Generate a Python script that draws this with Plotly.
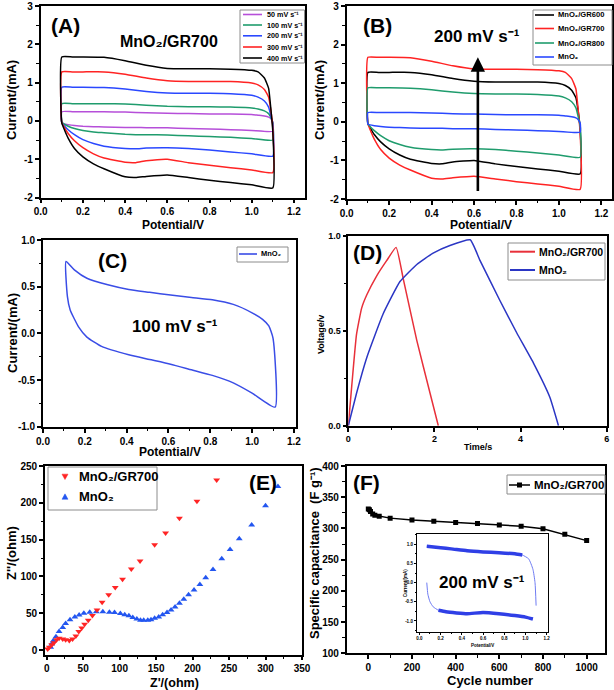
import plotly.graph_objects as go

W, H = 614, 690
FONT = "Liberation Sans"

# ---------------- data ----------------
# Panel A / B : CV curves (potential grid shared by all loops)
CV_V_UP = [0.10, 0.15, 0.20, 0.30, 0.40, 0.50, 0.60, 0.70, 0.80, 0.90, 1.00, 1.03, 1.06, 1.08, 1.09, 1.10]
CV_V_LOW = [1.10, 1.00, 0.90, 0.80, 0.70, 0.60, 0.50, 0.45, 0.40, 0.30, 0.25, 0.20, 0.16, 0.13, 0.11, 0.10]

I400_UP = [1.67, 1.67, 1.67, 1.66, 1.57, 1.45, 1.37, 1.36, 1.36, 1.35, 1.32, 1.28, 1.12, 0.85, 0.35, -0.30]
I400_LOW = [-1.75, -1.67, -1.61, -1.55, -1.48, -1.41, -1.45, -1.48, -1.46, -1.25, -1.12, -0.94, -0.72, -0.45, -0.20, -0.05]
I300_UP = [1.28, 1.28, 1.28, 1.28, 1.22, 1.12, 1.05, 1.03, 1.03, 1.03, 0.99, 0.94, 0.82, 0.62, 0.30, -0.20]
I300_LOW = [-1.35, -1.28, -1.22, -1.16, -1.09, -1.00, -1.04, -1.09, -1.08, -0.97, -0.86, -0.70, -0.52, -0.33, -0.15, -0.05]
I200_UP = [0.88, 0.88, 0.88, 0.87, 0.83, 0.77, 0.73, 0.72, 0.72, 0.71, 0.67, 0.62, 0.52, 0.36, 0.15, -0.10]
I200_LOW = [-0.92, -0.86, -0.81, -0.76, -0.72, -0.70, -0.71, -0.73, -0.72, -0.66, -0.59, -0.49, -0.36, -0.23, -0.12, -0.05]
I100_UP = [0.45, 0.45, 0.45, 0.45, 0.44, 0.41, 0.38, 0.37, 0.37, 0.36, 0.34, 0.31, 0.26, 0.19, 0.10, -0.05]
I100_LOW = [-0.50, -0.46, -0.43, -0.41, -0.39, -0.37, -0.36, -0.36, -0.35, -0.31, -0.29, -0.25, -0.20, -0.14, -0.08, -0.03]
I50_UP = [0.24, 0.24, 0.24, 0.24, 0.23, 0.21, 0.20, 0.19, 0.18, 0.18, 0.17, 0.15, 0.13, 0.10, 0.06, -0.03]
I50_LOW = [-0.27, -0.25, -0.23, -0.21, -0.20, -0.18, -0.18, -0.17, -0.17, -0.16, -0.15, -0.14, -0.12, -0.10, -0.08, -0.06]

A_NAMES = ["50 mV s⁻¹", "100 mV s⁻¹", "200 mV s⁻¹", "300 mV s⁻¹", "400 mV s⁻¹"]
B_NAMES = ["MnO₂/GR600", "MnO₂/GR700", "MnO₂/GR800", "MnO₂"]

# Panel C : MnO2 CV at 100 mV/s
C_V_UP = [0.11, 0.15, 0.21, 0.31, 0.41, 0.51, 0.61, 0.71, 0.81, 0.91, 1.00, 1.05, 1.08, 1.10, 1.11]
C_I_UP = [0.77, 0.68, 0.59, 0.52, 0.47, 0.44, 0.41, 0.385, 0.36, 0.31, 0.22, 0.15, 0.08, -0.05, -0.79]
C_V_LOW = [1.11, 1.00, 0.91, 0.81, 0.71, 0.61, 0.51, 0.41, 0.28, 0.21, 0.17, 0.13, 0.117, 0.11]
C_I_LOW = [-0.79, -0.64, -0.53, -0.45, -0.39, -0.33, -0.28, -0.23, -0.14, -0.04, 0.07, 0.25, 0.39, 0.77]

# Panel D : charge / discharge
D_GR_T = [0, 0.08, 0.19, 0.31, 0.43, 0.66, 0.89, 1.11, 1.28, 1.59, 1.90, 2.09]
D_GR_V = [0, 0.21, 0.48, 0.62, 0.69, 0.79, 0.87, 0.94, 0.77, 0.45, 0.17, 0.0]
D_MN_T = [0, 0.19, 0.43, 0.81, 1.20, 1.59, 1.97, 2.36, 2.83, 3.06, 3.52, 3.91, 4.30, 4.68, 4.88]
D_MN_V = [0, 0.17, 0.36, 0.59, 0.76, 0.85, 0.91, 0.95, 0.98, 0.87, 0.66, 0.49, 0.33, 0.15, 0.0]

# Panel E : Nyquist
E_GR_RE = [1.4, 3.6, 7, 10, 13.6, 17, 22, 26, 31, 35.5, 40, 44, 48, 52, 57, 62.7, 69, 76, 85, 94,
           104, 116, 128, 148, 163, 182, 206, 233]
E_GR_IM = [1.4, 3.6, 7, 10, 14, 16, 15, 14, 13, 15, 19, 25, 30, 35, 40.5, 47, 54.5, 65, 75, 85,
           96, 110, 121, 143, 159, 179, 202, 231]
E_MN_RE = [5.5, 6.8, 9, 12.7, 17, 22, 26, 32, 38.6, 44.5, 51, 59, 68, 77, 86, 93, 101, 107, 112.7, 118,
           123.6, 128.6, 133, 138.6, 143, 148, 153.6, 159, 165, 170.5, 176, 182, 188, 194.5, 202, 210,
           218, 228, 240, 251.4, 264, 281, 300, 317]
E_MN_IM = [3.6, 8, 12.6, 18, 25, 30.6, 36, 41, 45, 47.7, 50, 51.4, 51.8, 51.8, 51.4, 51, 49.5, 48, 46.4, 44,
           42, 40.5, 40.5, 40.5, 41, 43, 45, 48, 51, 54.5, 58.5, 63.5, 69, 75, 81.5, 89,
           98, 109.5, 124, 136.5, 151, 170, 196, 222]

# Panel F : cycling
F_CYCLE = [0, 5, 10, 20, 30, 50, 100, 200, 300, 400, 500, 600, 700, 800, 900, 1000]
F_CAP = [331, 330, 327, 323, 321, 319.5, 316.5, 313.5, 311.5, 309.5, 308, 305.5, 303.5, 299.5, 290.5, 280.5]

# Inset of F : CV at 200 mV/s
IN_V_UP = [0.07, 0.20, 0.30, 0.45, 0.60, 0.75, 0.90, 0.97, 1.03, 1.07, 1.09, 1.10]
IN_I_UP = [0.95, 0.91, 0.88, 0.83, 0.80, 0.78, 0.75, 0.72, 0.62, 0.35, 0.0, -0.60]
IN_V_LOW = [0.07, 0.08, 0.10, 0.13, 0.18, 0.25, 0.35, 0.45, 0.60, 0.75, 0.90, 1.00, 1.07]
IN_I_LOW = [0.0, -0.30, -0.50, -0.63, -0.72, -0.76, -0.79, -0.81, -0.78, -0.81, -0.86, -0.90, -0.95]

# ---------------- helpers ----------------
def px(x):
    return x / W

def py(y):
    return 1 - y / H

def xdom(a, b):
    return [a / W, b / W]

def ydom(top, bottom):
    return [1 - bottom / H, 1 - top / H]

def axis(dom, rng, vals, fmt, minor, anchor, size=10, lw=1.6, tl=4, tw=1.5, mtl=2.5):
    return dict(domain=dom, range=rng, anchor=anchor, automargin=False, tickmode="array", tickvals=vals,
                ticktext=[fmt.format(v) for v in vals], ticks="outside", ticklen=tl,
                tickwidth=tw, tickcolor="black", showline=True, linecolor="black",
                linewidth=lw, mirror=True, showgrid=False, zeroline=False, fixedrange=True,
                tickfont=dict(family=FONT, size=size, color="black", weight="bold"),
                minor=dict(tickmode="linear", tick0=0, dtick=minor, ticks="outside",
                           ticklen=mtl, tickwidth=max(tw - 0.3, 0.5), tickcolor="black",
                           showgrid=False))

def loop(up_v, lo_v, up_i, lo_i):
    return up_v + lo_v + [up_v[0]], up_i + lo_i + [up_i[0]]

fig = go.Figure()

# ---------------- Panel A ----------------
A_COLORS = ["#b64fd9", "#1f9c6d", "#2a48ff", "#ff2323", "#000000"]
A_SETS = [(I50_UP, I50_LOW), (I100_UP, I100_LOW), (I200_UP, I200_LOW),
          (I300_UP, I300_LOW), (I400_UP, I400_LOW)]
for name, col, (u, l) in zip(A_NAMES, A_COLORS, A_SETS):
    xv, yv = loop(CV_V_UP, CV_V_LOW, u, l)
    fig.add_trace(go.Scatter(x=xv, y=yv, mode="lines", name=name, showlegend=False,
                             line=dict(color=col, width=1.5, shape="spline", smoothing=0.4),
                             xaxis="x", yaxis="y"))

# ---------------- Panel B ----------------
B_COLORS = ["#000000", "#ff2323", "#1f9c6d", "#2a48ff"]
B_SETS = [(I300_UP, I300_LOW), (I400_UP, I400_LOW), (I200_UP, I200_LOW), (I50_UP, I50_LOW)]
for name, col, (u, l) in zip(B_NAMES, B_COLORS, B_SETS):
    xv, yv = loop(CV_V_UP, CV_V_LOW, u, l)
    fig.add_trace(go.Scatter(x=xv, y=yv, mode="lines", name=name, showlegend=False,
                             line=dict(color=col, width=1.5, shape="spline", smoothing=0.4),
                             xaxis="x2", yaxis="y2"))

# ---------------- Panel C ----------------
cx, cy = C_V_UP + C_V_LOW[1:], C_I_UP + C_I_LOW[1:]
fig.add_trace(go.Scatter(x=cx, y=cy, mode="lines", name="MnO₂", showlegend=False,
                         line=dict(color="#3a4de6", width=1.5, shape="spline", smoothing=0.5),
                         xaxis="x3", yaxis="y3"))

# ---------------- Panel D ----------------
fig.add_trace(go.Scatter(x=D_GR_T, y=D_GR_V, mode="lines", name="MnO₂/GR700",
                         showlegend=False, line=dict(color="#e8303a", width=1.5, shape="spline", smoothing=0.4),
                         xaxis="x4", yaxis="y4"))
fig.add_trace(go.Scatter(x=D_MN_T, y=D_MN_V, mode="lines", name="MnO₂",
                         showlegend=False, line=dict(color="#2b36c4", width=1.5, shape="spline", smoothing=0.4),
                         xaxis="x4", yaxis="y4"))

# ---------------- Panel E ----------------
fig.add_trace(go.Scatter(x=E_MN_RE, y=E_MN_IM, mode="markers", name="MnO₂", showlegend=False,
                         marker=dict(symbol="triangle-up", size=6, color="#2356f0"),
                         xaxis="x5", yaxis="y5"))
fig.add_trace(go.Scatter(x=E_GR_RE, y=E_GR_IM, mode="markers", name="MnO₂/GR700", showlegend=False,
                         marker=dict(symbol="triangle-down", size=6, color="#ff2424"),
                         xaxis="x5", yaxis="y5"))

# ---------------- Panel F ----------------
fig.add_trace(go.Scatter(x=F_CYCLE, y=F_CAP, mode="lines+markers", name="MnO₂/GR700",
                         showlegend=False, line=dict(color="black", width=1.5),
                         marker=dict(symbol="square", size=5, color="black"),
                         xaxis="x6", yaxis="y6"))

# inset
fig.add_trace(go.Scatter(x=IN_V_UP, y=IN_I_UP, mode="lines", showlegend=False,
                         line=dict(color="#6f7cf2", width=1.0, shape="spline", smoothing=0.5),
                         xaxis="x7", yaxis="y7"))
fig.add_trace(go.Scatter(x=IN_V_LOW, y=IN_I_LOW, mode="lines", showlegend=False,
                         line=dict(color="#6f7cf2", width=1.0, shape="spline", smoothing=0.5),
                         xaxis="x7", yaxis="y7"))
fig.add_trace(go.Scatter(x=IN_V_UP[:8], y=IN_I_UP[:8], mode="lines", showlegend=False,
                         line=dict(color="#2f3fe6", width=3.5, shape="spline", smoothing=0.5),
                         xaxis="x7", yaxis="y7"))
fig.add_trace(go.Scatter(x=IN_V_LOW[4:], y=IN_I_LOW[4:], mode="lines", showlegend=False,
                         line=dict(color="#2f3fe6", width=3.5, shape="spline", smoothing=0.5),
                         xaxis="x7", yaxis="y7"))

# ---------------- axes ----------------
CV_X = [0.0, 0.2, 0.4, 0.6, 0.8, 1.0, 1.2]
CV_Y = [-2, -1, 0, 1, 2, 3]
fig.update_layout(
    xaxis=axis(xdom(40.7, 304.5), [0, 1.25], CV_X, "{:.1f}", 0.1, "y"),
    yaxis=axis(ydom(6, 197.5), [-2, 3], CV_Y, "{:d}", 0.5, "x"),
    xaxis2=axis(xdom(346.7, 612), [0, 1.25], CV_X, "{:.1f}", 0.1, "y2"),
    yaxis2=axis(ydom(6, 199), [-2, 3], CV_Y, "{:d}", 0.5, "x2"),
    xaxis3=axis(xdom(43, 296), [0, 1.21], CV_X, "{:.1f}", 0.1, "y3"),
    yaxis3=axis(ydom(240, 426.7), [-1, 1], [-1.0, -0.5, 0.0, 0.5, 1.0], "{:.1f}", 0.25, "x3"),
    xaxis4=axis(xdom(348.3, 606.7), [0, 6], [0, 2, 4, 6], "{:d}", 1, "y4", size=9),
    yaxis4=axis(ydom(236, 425.7), [0, 1], [0.0, 0.5, 1.0], "{:.1f}", 0.25, "x4", size=9),
    xaxis5=axis(xdom(45, 302), [-2.3, 350], [0, 50, 100, 150, 200, 250, 300, 350], "{:d}", 25, "y5",
                tl=3, mtl=2),
    yaxis5=axis(ydom(466, 655), [-6.8, 250], [0, 50, 100, 150, 200, 250], "{:d}", 25, "x5"),
    xaxis6=axis(xdom(346.7, 605), [-99, 1084], [0, 200, 400, 600, 800, 1000], "{:d}", 100, "y6"),
    yaxis6=axis(ydom(466, 653.3), [100, 400], [100, 150, 200, 250, 300, 350, 400], "{:d}", 25, "x6"),
    xaxis7=axis(xdom(416.7, 548.3), [-0.025, 1.215], CV_X, "{:.1f}", 0.1, "y7",
                size=4.5, lw=0.8, tl=2, tw=0.8, mtl=1.2),
    yaxis7=axis(ydom(534.3, 631.7), [-1.28, 1.26], [-1.0, -0.5, 0.0, 0.5, 1.0], "{:.1f}", 0.25, "x7",
                size=4.5, lw=0.8, tl=2, tw=0.8, mtl=1.2),
)

# ---------------- annotations ----------------
ann = []

def text(x, y, t, size, bold=True, angle=0, xanchor="center", color="black"):
    ann.append(dict(x=px(x), y=py(y), xref="paper", yref="paper", text=t, showarrow=False,
                    xanchor=xanchor, yanchor="middle", textangle=angle,
                    font=dict(family=FONT, size=size, color=color,
                              weight="bold" if bold else "normal")))

# panel labels and inner texts
text(65, 25, "(A)", 21)
text(169, 42, "MnO₂/GR700", 16)
text(377, 25, "(B)", 21)
text(477, 37, "200 mV s⁻¹", 17)
text(112, 260, "(C)", 21)
text(175, 327, "100 mV s⁻¹", 17)
text(367, 252, "(D)", 21)
text(263, 483, "(E)", 21)
text(366, 482, "(F)", 21)
text(482, 582, "200 mV s⁻¹", 17)

# axis titles
text(12, 100, "Current/(mA)", 13, angle=-90)
text(173, 225, "Potential/V", 12)
text(320, 100, "Current/(mA)", 13, angle=-90)
text(481, 225, "Potential/V", 12)
text(12, 333, "Current/(mA)", 13, angle=-90)
text(170, 452, "Potential/V", 12)
text(321, 335, "Voltage/v", 9, angle=-90)
text(478, 447, "Time/s", 9)
text(11, 553, "Z''/(ohm)", 13, angle=-90)
text(174, 682.5, "Z'/(ohm)", 12.5)
text(314, 553, "Specific capacitance  (F g⁻¹)", 13, angle=-90)
text(490, 680, "Cycle number", 13)
text(405, 583, "Current/(mA)", 4.5, angle=-90)
text(482, 645, "Potential/V", 4.5)

# arrow in B
ann.append(dict(x=0.618, y=1.67, ax=0.618, ay=-1.83, xref="x2", yref="y2", axref="x2", ayref="y2",
                showarrow=True, arrowhead=2, arrowsize=1.1, arrowwidth=2.6, arrowcolor="black", text=""))

# ---------------- manual legends ----------------
shapes = []

def box(x0, y0, x1, y1):
    shapes.append(dict(type="rect", xref="paper", yref="paper", x0=px(x0), x1=px(x1),
                       y0=py(y1), y1=py(y0), line=dict(color="#8c8c8c", width=1),
                       fillcolor="rgba(255,255,255,0)"))

def lline(x0, x1, y, color, width=1.6):
    shapes.append(dict(type="line", xref="paper", yref="paper", x0=px(x0), x1=px(x1),
                       y0=py(y), y1=py(y), line=dict(color=color, width=width)))

def tri(xc, yc, s, color, up=True):
    if up:
        pts = [(xc - s, yc + s * 0.85), (xc + s, yc + s * 0.85), (xc, yc - s * 0.95)]
    else:
        pts = [(xc - s, yc - s * 0.85), (xc + s, yc - s * 0.85), (xc, yc + s * 0.95)]
    path = "M " + " L ".join(f"{px(a):.5f} {py(b):.5f}" for a, b in pts) + " Z"
    shapes.append(dict(type="path", xref="paper", yref="paper", path=path,
                       fillcolor=color, line=dict(color=color, width=0.5)))

# A legend
box(240, 10, 304.5, 63)
for yv, col, nm in zip([14.5, 25, 35.8, 47, 58], A_COLORS, A_NAMES):
    lline(243, 262, yv, col)
    text(264.5, yv, nm, 7.2, xanchor="left")

# B legend
box(533, 10, 612, 65)
for yv, col, nm in zip([15, 28.5, 43, 57], B_COLORS, B_NAMES):
    lline(535, 554, yv, col)
    text(556, yv, nm, 7.6, xanchor="left")

# C legend
box(237, 247, 288, 262)
lline(239, 257, 254, "#3a4de6")
text(258.5, 254, "MnO₂", 7.5, xanchor="left")

# D legend
box(508, 243, 605, 280)
lline(510, 535, 251.7, "#e8303a", 2)
text(536.5, 251.7, "MnO₂/GR700", 10.5, xanchor="left")
lline(510, 535, 270, "#2b36c4", 2)
text(536.5, 270, "MnO₂", 10.5, xanchor="left")

# E legend
box(48, 467, 157, 510)
tri(65, 476.7, 3, "#ff2424", up=False)
text(77, 476.7, "MnO₂/GR700", 13, xanchor="left")
tri(65, 496.7, 3, "#2356f0", up=True)
text(77, 496.7, "MnO₂", 13, xanchor="left")

# F legend
box(507, 475, 605, 494)
lline(509, 530, 485, "black", 1.5)
shapes.append(dict(type="rect", xref="paper", yref="paper", x0=px(517), x1=px(522),
                   y0=py(487.5), y1=py(482.5), fillcolor="black", line=dict(color="black", width=0)))
text(531.5, 485, "MnO₂/GR700", 11.5, xanchor="left")

fig.update_layout(
    width=W, height=H, margin=dict(l=0, r=0, t=0, b=0, pad=0, autoexpand=False),
    paper_bgcolor="white", plot_bgcolor="white", showlegend=False,
    annotations=ann, shapes=shapes,
    font=dict(family=FONT, color="black"),
)

fig.write_html("out.html", config={"displayModeBar": False},
               post_script="document.body.style.margin='0';document.body.style.padding='0';"
                           "document.documentElement.style.overflow='hidden';")
